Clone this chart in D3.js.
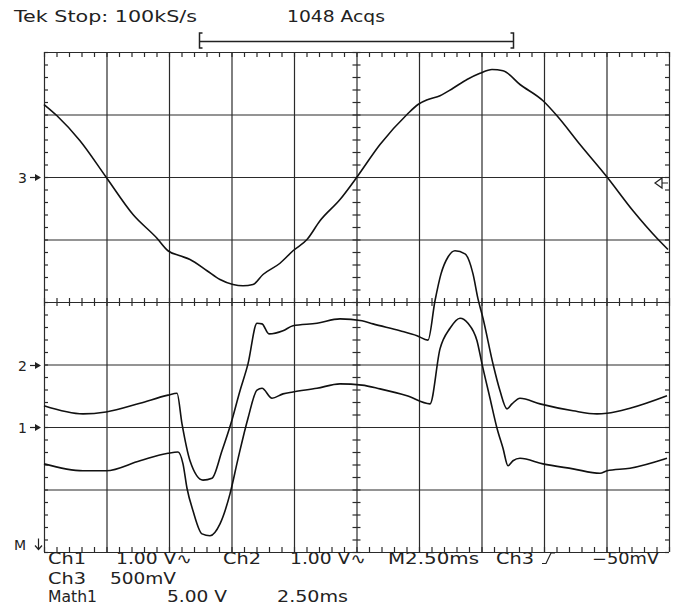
<!DOCTYPE html>
<html>
<head>
<meta charset="utf-8">
<script src="https://cdn.jsdelivr.net/npm/d3@7"></script>
<style>
  body { margin: 0; background: #fff; }
  svg { display: block; }
  text { font-family: "DejaVu Sans", sans-serif; fill: #222; }
  .grid line, .ticks line { stroke: #2a2a2a; stroke-width: 1.2; }
  .grid path, .ticks path { display: none; }
</style>
</head>
<body>
<svg id="chart" width="674" height="608"></svg>
<script>
// time base M 2.50ms/div, 10 divisions; values in volts per channel
const ch3Time = [0, 0.52, 1.44, 2.48, 3.56, 4.52, 4.96, 5.44, 5.84, 6.52, 7.04, 7.56, 7.96, 8.36, 8.76, 9.44, 9.96, 10.52, 11.04, 11.84,
  12.52, 13.44, 14.52, 14.96, 15.36, 15.84, 16.36, 16.92, 17.44, 17.92, 18.36, 19.04, 19.96, 20.52, 21.44, 22.52, 23.56, 24.52, 24.96];
const ch3Volts = [0.58, 0.49, 0.29, 0, -0.3, -0.49, -0.59, -0.63, -0.66, -0.75, -0.82, -0.86, -0.87, -0.86, -0.78, -0.69, -0.59, -0.5, -0.35, -0.18,
  0, 0.26, 0.5, 0.58, 0.62, 0.65, 0.71, 0.78, 0.83, 0.86, 0.85, 0.74, 0.61, 0.49, 0.26, 0, -0.27, -0.49, -0.58];

const ch2Time = [0, 1.56, 2.48, 3.84, 4.96, 5.32, 5.52, 5.84, 6.36, 6.72, 7.12, 7.48, 7.84, 8.16, 8.52, 8.72, 9.0, 9.56, 9.96, 10.92, 11.84,
  12.72, 13.16, 14.24, 14.92, 15.36, 15.64, 15.88, 16.16, 16.44, 16.84, 17.16, 17.36, 17.56, 17.96, 18.24, 18.52, 18.72, 19.04, 19.84,
  21.16, 22.12, 22.52, 23.44, 24.92];
const ch2Volts = [-0.66, -0.79, -0.76, -0.62, -0.49, -0.46, -0.95, -1.54, -1.85, -1.82, -1.38, -0.94, -0.42, 0.01, 0.66, 0.65, 0.49, 0.54, 0.62, 0.66, 0.73,
  0.7, 0.65, 0.54, 0.46, 0.39, 1.02, 1.45, 1.72, 1.82, 1.77, 1.45, 1.05, 0.74, 0.01, -0.42, -0.71, -0.63, -0.54, -0.63,
  -0.74, -0.79, -0.78, -0.7, -0.5];

const ch1Time = [0, 1.56, 2.48, 3.84, 4.96, 5.36, 5.56, 5.72, 5.96, 6.32, 6.64, 7.04, 7.44, 7.76, 8.16, 8.52, 8.72, 9.12, 9.56, 9.96, 10.92, 11.84,
  12.72, 13.44, 14.52, 15.44, 15.84, 16.24, 16.64, 16.96, 17.32, 17.52, 17.84, 18.12, 18.36, 18.56, 18.76, 19.04, 19.96,
  21.16, 22.24, 22.52, 23.44, 24.92];
const ch1Volts = [-0.59, -0.7, -0.7, -0.54, -0.42, -0.4, -0.59, -0.98, -1.34, -1.71, -1.74, -1.55, -1.07, -0.51, 0.14, 0.59, 0.62, 0.46, 0.53, 0.56, 0.62, 0.69,
  0.67, 0.61, 0.5, 0.37, 1.25, 1.58, 1.74, 1.66, 1.38, 1.01, 0.46, -0.02, -0.34, -0.62, -0.54, -0.5, -0.59,
  -0.67, -0.74, -0.7, -0.66, -0.5];

const headerTexts = ['Tek Stop: 100kS/s', '1048 Acqs'];
const footerRow1 = ['Ch1', '1.00 V\u223F', 'Ch2', '1.00 V\u223F', 'M2.50ms', 'Ch3', '\u221250mV'];
const footerRow2 = ['Ch3', '500mV'];
const footerRow3 = ['Math1', '5.00 V', '2.50ms'];

const channels = [
  { label: '3', vPerDiv: 0.5, ref: 2, time: ch3Time, volts: ch3Volts },
  { label: '2', vPerDiv: 1, ref: -1, time: ch2Time, volts: ch2Volts },
  { label: '1', vPerDiv: 1, ref: -2, time: ch1Time, volts: ch1Volts }
];

const box = { left: 44, right: 669, top: 52, bottom: 552 };
const svg = d3.select('#chart');

const x = d3.scaleLinear().domain([0, 25]).range([box.left, box.right]);
const y = d3.scaleLinear().domain([-4, 4]).range([box.bottom, box.top]);

const majorX = d3.range(0, 25.001, 2.5);
const minorX = d3.range(0, 25.001, 0.5);
const majorY = d3.range(-4, 4.001, 1);
const minorY = d3.range(-4, 4.001, 0.2);

// graticule
svg.append('g').attr('class', 'grid')
  .attr('transform', `translate(0,${box.bottom})`)
  .call(d3.axisBottom(x).tickValues(majorX).tickSize(-(box.bottom - box.top)).tickFormat(''));
svg.append('g').attr('class', 'grid')
  .attr('transform', `translate(${box.left},0)`)
  .call(d3.axisLeft(y).tickValues(majorY).tickSize(-(box.right - box.left)).tickFormat(''));

// minor ticks on the border and centre lines
function ticks(axis, tx, ty, span) {
  const g = svg.append('g').attr('class', 'ticks')
    .attr('transform', `translate(${tx},${ty})`)
    .call(axis.tickFormat(''));
  if (span) {
    g.selectAll('.tick line').attr(span[0], -span[1]).attr(span[2], span[1]);
  }
}
ticks(d3.axisBottom(x).tickValues(minorX).tickSize(5), 0, box.top);
ticks(d3.axisTop(x).tickValues(minorX).tickSize(5), 0, box.bottom);
ticks(d3.axisBottom(x).tickValues(minorX).tickSize(4), 0, y(0), ['y1', 4, 'y2']);
ticks(d3.axisRight(y).tickValues(minorY).tickSize(4), box.left, 0);
ticks(d3.axisLeft(y).tickValues(minorY).tickSize(4), box.right, 0);
ticks(d3.axisRight(y).tickValues(minorY).tickSize(4), x(12.5), 0, ['x1', 4, 'x2']);

// traces
const line = d3.line()
  .x(d => x(d[0]))
  .y(d => y(d[1]))
  .curve(d3.curveMonotoneX);

channels.forEach(c => {
  const pts = c.time.map((t, i) => [t, c.ref + c.volts[i] / c.vPerDiv]);
  svg.append('path')
    .datum(pts)
    .attr('d', line)
    .attr('fill', 'none')
    .attr('stroke', '#111')
    .attr('stroke-width', 1.6)
    .attr('stroke-linejoin', 'round');
});

// channel reference markers
channels.forEach(c => {
  const yy = Math.round(y(c.ref)) + 0.5;
  svg.append('text').attr('x', 18).attr('y', yy + 5.5)
    .attr('font-size', 14).text(c.label);
  svg.append('path')
    .attr('d', `M30,${yy}H36`)
    .attr('stroke', '#222').attr('stroke-width', 1.2);
  svg.append('path')
    .attr('d', `M35,${yy - 3.5}L41,${yy}L35,${yy + 3.5}Z`)
    .attr('fill', '#222');
});
const yM = y(-3.88);
svg.append('text').attr('x', 14).attr('y', yM + 5).attr('font-size', 14).text('M');
svg.append('path')
  .attr('d', `M38.5,${yM - 6}V${yM + 4}M35,${yM + 1}L38.5,${yM + 5}L42,${yM + 1}`)
  .attr('fill', 'none').attr('stroke', '#222').attr('stroke-width', 1.2);

// trigger level marker on the right edge
const yT = 183;
svg.append('path')
  .attr('d', `M655,${yT}L662,${yT - 5}V${yT + 5}Z M662,${yT}H668`)
  .attr('fill', '#fff').attr('stroke', '#222').attr('stroke-width', 1.2);

// header
svg.append('text').attr('x', 14).attr('y', 22).attr('font-size', 16)
  .attr('textLength', 183).attr('lengthAdjust', 'spacingAndGlyphs').text(headerTexts[0]);
svg.append('text').attr('x', 287).attr('y', 22).attr('font-size', 16)
  .attr('textLength', 98).attr('lengthAdjust', 'spacingAndGlyphs').text(headerTexts[1]);

// record bracket
const bx0 = 199.5, bx1 = 513.5, by = 41.5;
svg.append('path')
  .attr('d', `M${bx0 + 3},33H${bx0}V48H${bx0 + 3} M${bx0},${by}H${bx1} M${bx1 - 3},33H${bx1}V48H${bx1 - 3}`)
  .attr('fill', 'none').attr('stroke', '#222').attr('stroke-width', 1.5);

// footer readouts
const row1X = [[48, 38], [116, 76], [223, 38], [290, 76], [388, 91], [496, 38], [592, 67]];
footerRow1.forEach((t, i) => {
  svg.append('text').attr('x', row1X[i][0]).attr('y', 564).attr('font-size', 15)
    .attr('textLength', row1X[i][1]).attr('lengthAdjust', 'spacingAndGlyphs').text(t);
});
svg.append('path')
  .attr('d', 'M542,563.5H546L551,553H555')
  .attr('fill', 'none').attr('stroke', '#222').attr('stroke-width', 1.2);

const row2X = [[48, 38], [110, 66]];
footerRow2.forEach((t, i) => {
  svg.append('text').attr('x', row2X[i][0]).attr('y', 583.5).attr('font-size', 15)
    .attr('textLength', row2X[i][1]).attr('lengthAdjust', 'spacingAndGlyphs').text(t);
});
const row3X = [[48, 49], [167, 60], [277, 71]];
footerRow3.forEach((t, i) => {
  svg.append('text').attr('x', row3X[i][0]).attr('y', 602).attr('font-size', 15)
    .attr('textLength', row3X[i][1]).attr('lengthAdjust', 'spacingAndGlyphs').text(t);
});
</script>
</body>
</html>
